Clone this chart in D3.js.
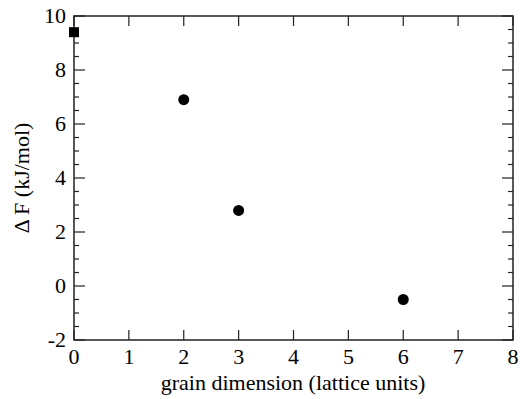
<!DOCTYPE html>
<html><head><meta charset="utf-8">
<style>body{margin:0;background:#fff} svg text{font-family:"Liberation Serif",serif}</style>
<script src="https://cdn.jsdelivr.net/npm/d3@7"></script>
</head><body><svg id="c" width="520" height="399"></svg>
<script>
const squareX = [0];
const squareY = [9.4];
const circleX = [2, 3, 6];
const circleY = [6.9, 2.8, -0.5];
const xTicks = [0,1,2,3,4,5,6,7,8];
const yTicks = [-2,0,2,4,6,8,10];
const yMinor = d3.range(-2, 10.01, 0.5);

const svg = d3.select("#c");
const L=74, R=513, T=16, B=340;
const x = d3.scaleLinear().domain([0,8]).range([L,R]);
const y = d3.scaleLinear().domain([-2,10]).range([B,T]);
const g = svg.append("g");
const stroke="#222";
const FS = 22, FF = "Liberation Serif";

g.append("rect").attr("x",L).attr("y",T).attr("width",R-L).attr("height",B-T)
 .attr("fill","none").attr("stroke",stroke).attr("stroke-width",1.5);

xTicks.forEach(v=>{
  g.append("line").attr("x1",x(v)).attr("x2",x(v)).attr("y1",B).attr("y2",B-10).attr("stroke",stroke).attr("stroke-width",1.2);
  g.append("line").attr("x1",x(v)).attr("x2",x(v)).attr("y1",T).attr("y2",T+10).attr("stroke",stroke).attr("stroke-width",1.2);
  g.append("text").attr("x",x(v)).attr("y",B+24).attr("text-anchor","middle")
   .attr("font-family",FF).attr("font-size",FS).text(v);
});
yMinor.forEach(v=>{
  const major = Math.abs(v-Math.round(v/2)*2)<1e-6;
  const len = major?11:5;
  g.append("line").attr("x1",L).attr("x2",L+len).attr("y1",y(v)).attr("y2",y(v)).attr("stroke",stroke).attr("stroke-width",1.2);
  g.append("line").attr("x1",R).attr("x2",R-len).attr("y1",y(v)).attr("y2",y(v)).attr("stroke",stroke).attr("stroke-width",1.2);
});
yTicks.forEach(v=>{
  g.append("text").attr("x",L-8).attr("y",y(v)).attr("dy","0.33em").attr("text-anchor","end")
   .attr("font-family",FF).attr("font-size",FS).text(v);
});

g.selectAll(".sq").data(squareX.map((d,i)=>[d,squareY[i]])).enter().append("rect")
 .attr("x",d=>x(d[0])-5).attr("y",d=>y(d[1])-5).attr("width",10).attr("height",10).attr("fill","#000");
g.selectAll(".ci").data(circleX.map((d,i)=>[d,circleY[i]])).enter().append("circle")
 .attr("cx",d=>x(d[0])).attr("cy",d=>y(d[1])).attr("r",5.5).attr("fill","#000");

g.append("text").attr("x",293).attr("y",390).attr("text-anchor","middle")
 .attr("font-family",FF).attr("font-size",FS).text("grain dimension (lattice units)");
g.append("text").attr("transform",`translate(29,178) rotate(-90)`).attr("text-anchor","middle")
 .attr("font-family",FF).attr("font-size",FS).text("Δ F (kJ/mol)");
</script></body></html>
